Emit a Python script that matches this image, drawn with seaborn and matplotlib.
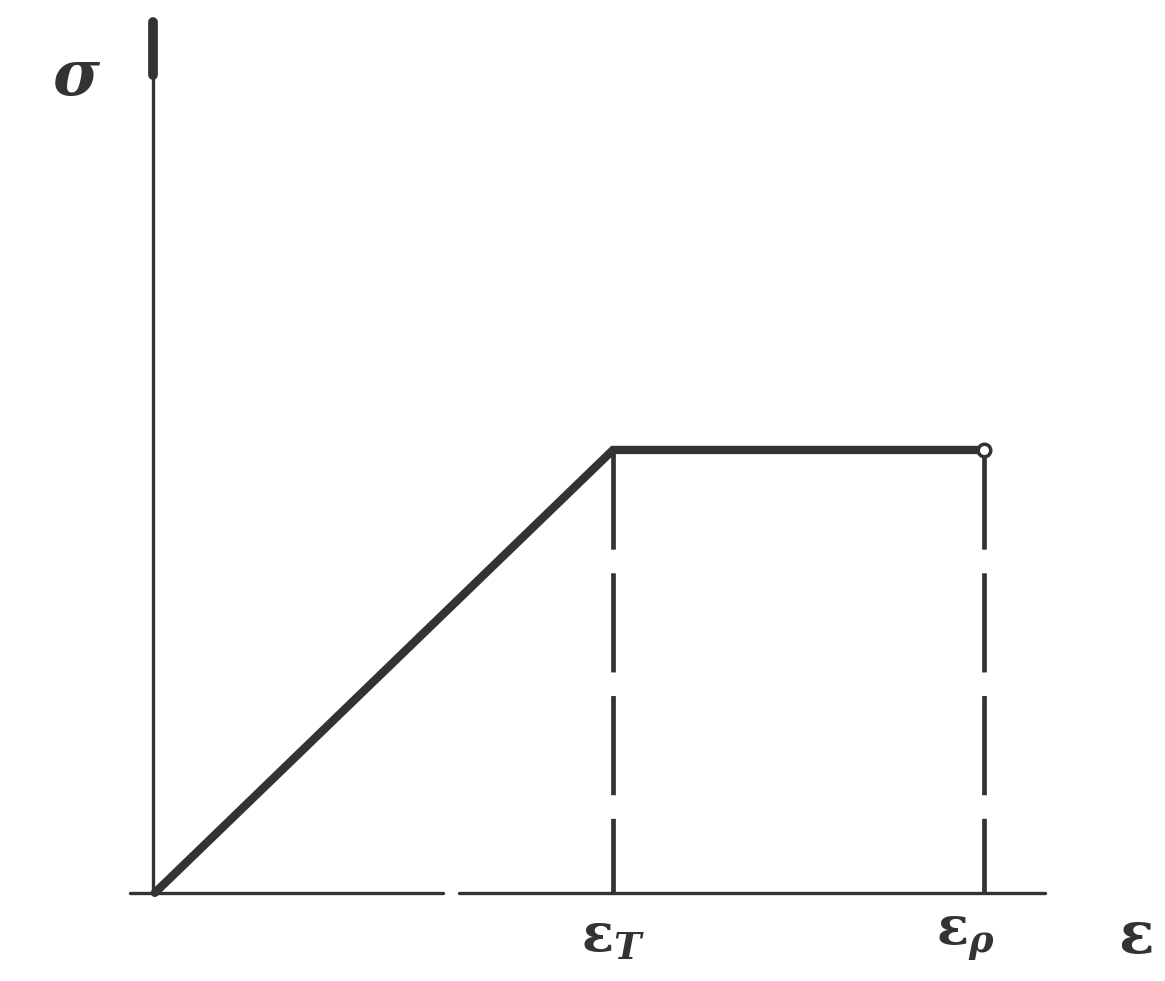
import matplotlib
matplotlib.use("Agg")
import matplotlib.pyplot as plt
import seaborn as sns
import pandas as pd

# stress-strain diagram (ideal elastic-plastic)
strain = [0.0, 1.0, 1.81]
stress = [0.0, 1.0, 1.0]
eps_T = strain[1]
eps_p = strain[2]
tick_labels = [r"$\boldsymbol{\varepsilon}_{\boldsymbol{T}}$",
               r"$\boldsymbol{\varepsilon}_{\boldsymbol{\rho}}$"]

sns.set_theme(style="white")
plt.rcParams['font.family'] = ['DejaVu Serif', 'DejaVu Sans']
plt.rcParams['mathtext.fontset'] = 'dejavuserif'

ink = "#333333"
fig = plt.figure(figsize=(11.65, 9.81), dpi=100)
ax = fig.add_axes([0, 0, 1, 1])
ax.set_xlim(-0.338, 2.205)
ax.set_ylim(-0.199, 2.016)
ax.axis("off")

# axes drawn by hand (x axis has a small break)
ax.plot([-0.055, 0.63], [0, 0], color=ink, lw=2.4)
ax.plot([0.665, 1.943], [0, 0], color=ink, lw=2.4)
ax.plot([-0.004, -0.004], [0.0, 1.966], color=ink, lw=2.4)
ax.plot([-0.004, -0.004], [1.846, 1.966], color=ink, lw=7, solid_capstyle="round")

df = pd.DataFrame({"strain": strain, "stress": stress})
sns.lineplot(data=df, x="strain", y="stress", color=ink, lw=6, ax=ax,
             solid_joinstyle="miter", solid_capstyle="round")

# dashed verticals at the yield and rupture strain, drawn top down
for xv in [eps_T, eps_p]:
    ax.plot([xv, xv], [1.0, 0], color=ink, lw=3.4, linestyle=(0, (21, 5)))

ax.plot([eps_p], [1.0], marker="o", ms=9, mfc="white", mec=ink, mew=2.5)

ax.text(-0.17, 1.84, r"$\boldsymbol{\sigma}$", fontsize=46, color=ink, ha="center", va="center")
ax.text(eps_T, -0.10, tick_labels[0], fontsize=38, color=ink, ha="center", va="center")
ax.text(eps_p - 0.04, -0.10, tick_labels[1], fontsize=38, color=ink, ha="center", va="center")
ax.text(2.14, -0.10, r"$\boldsymbol{\varepsilon}$", fontsize=42, color=ink, ha="center", va="center")

fig.savefig("out.png", dpi=100)
